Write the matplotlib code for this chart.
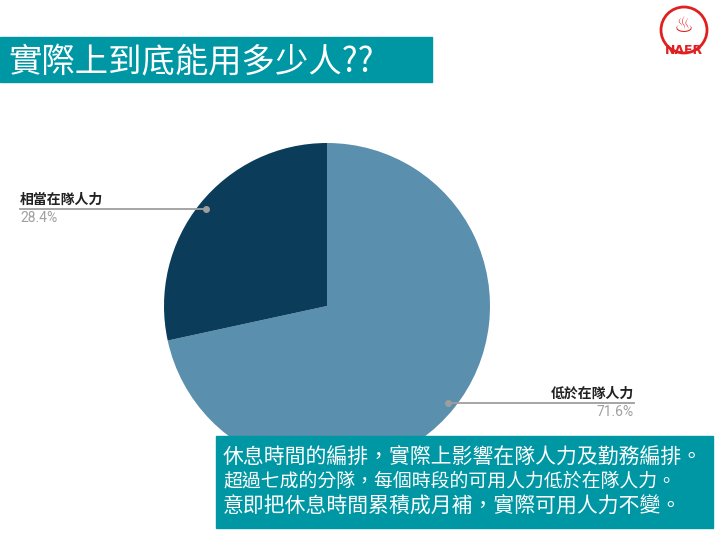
import numpy as np
import matplotlib

matplotlib.use("Agg")

import matplotlib.pyplot as plt
from matplotlib.patches import Rectangle, Circle

plt.rcParams["font.family"] = ["Noto Sans CJK TC", "DejaVu Sans"]

# data
labels = ["低於在隊人力", "相當在隊人力"]
shares = [71.6, 28.4]
slice_colors = ["#5a8fae", "#0b3d5b"]
title = "實際上到底能用多少人??"
notes = [
    "休息時間的編排，實際上影響在隊人力及勤務編排。",
    "超過七成的分隊，每個時段的可用人力低於在隊人力。",
    "意即把休息時間累積成月補，實際可用人力不變。",
]
note_sizes = [15, 13.6, 15]

TEAL = "#0097a4"
W, H = 720, 540

fig = plt.figure(figsize=(7.2, 5.4), dpi=100)

# pie first, overlay drawn on top of it
cx, cy, r = 327, 306, 163
pie_ax = fig.add_axes([(cx - r) / W, (H - cy - r) / H, 2 * r / W, 2 * r / H])
pie_ax.pie(shares, colors=slice_colors, startangle=90, counterclock=False,
           radius=1.0, wedgeprops={"linewidth": 0})
pie_ax.set_xlim(-1, 1)
pie_ax.set_ylim(-1, 1)
pie_ax.set_aspect("equal")

ov = fig.add_axes([0, 0, 1, 1])
ov.set_xlim(0, W)
ov.set_ylim(H, 0)
ov.patch.set_alpha(0)
ov.axis("off")

# title bar
ov.add_patch(Rectangle((0, 37), 432, 45, color=TEAL, zorder=1))
ov.text(8, 62, title, color="white", fontsize=24, va="center", ha="left", zorder=2)

# logo
ov.add_patch(Circle((684, 30), 23, fill=False, ec="#e02020", lw=2.0, zorder=2))
ov.text(684, 26, "♨", color="#e02020", fontsize=16, ha="center", va="center",
        family="DejaVu Sans", zorder=3)
ov.text(684, 50, "NAFR", color="#e02020", fontsize=9, fontweight="bold",
        ha="center", va="center", family="DejaVu Sans", zorder=3)

# leader lines and labels
total = sum(shares)
start = 90.0
for name, val in zip(labels, shares):
    sweep = 360.0 * val / total
    mid = np.deg2rad(start - sweep / 2)
    start -= sweep
    px = cx + 0.95 * r * np.cos(mid)
    py = cy - 0.95 * r * np.sin(mid)
    if np.cos(mid) >= 0:
        end_x, ha = 634, "right"
    else:
        end_x, ha = 20, "left"
    ov.plot([px, end_x], [py, py], color="#9e9e9e", lw=1.3, zorder=3)
    ov.plot(px, py, "o", color="#9e9e9e", ms=4, zorder=4)
    ov.text(end_x, py - 2, name, color="#222222", fontsize=10, ha=ha, va="bottom",
            fontweight="bold", zorder=4)
    ov.text(end_x, py + 2, f"{val:.1f}%", color="#a0a0a0", fontsize=10, ha=ha,
            va="top", family=["Roboto", "DejaVu Sans"], zorder=4)

# note box
ov.add_patch(Rectangle((216, 436), 497, 92, color=TEAL, zorder=5))
for i, (line, size) in enumerate(zip(notes, note_sizes)):
    ov.text(223, 457 + i * 24.5, line, color="white", fontsize=size, ha="left",
            va="center", zorder=6)

fig.savefig("out.png", dpi=100)
